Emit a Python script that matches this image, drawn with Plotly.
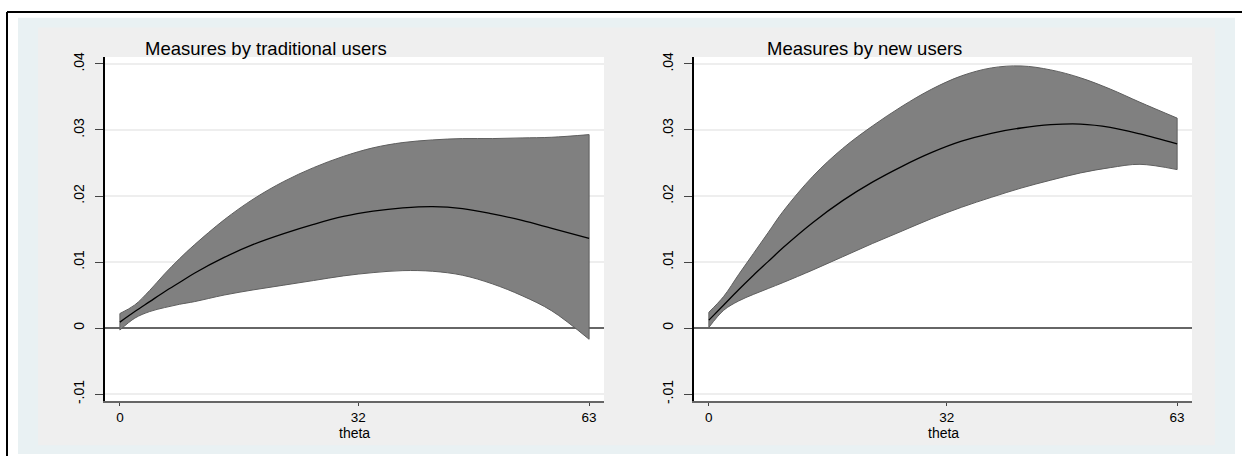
import plotly.graph_objects as go

W, H = 1242, 459

# ---------------- data ----------------
theta = [0, 2, 4, 6, 8, 10, 14, 18, 22, 26, 30, 34, 38, 42, 46, 50, 54, 58, 63]

trad_mean = [0.0009, 0.0025, 0.0040, 0.0055, 0.0069, 0.0083, 0.0107, 0.0127, 0.0143, 0.0157,
             0.0169, 0.0177, 0.0182, 0.0184, 0.0181, 0.0173, 0.0163, 0.0151, 0.0136]
trad_upper = [0.0022, 0.0035, 0.0057, 0.0082, 0.0105, 0.0126, 0.0164, 0.0196, 0.0222, 0.0243,
              0.0260, 0.0273, 0.0281, 0.0285, 0.0287, 0.0287, 0.0288, 0.0289, 0.0293]
trad_lower = [-0.0003, 0.0015, 0.0025, 0.0031, 0.0036, 0.0040, 0.0050, 0.0058, 0.0065, 0.0072,
              0.0079, 0.0084, 0.0087, 0.0086, 0.0080, 0.0067, 0.0049, 0.0026, -0.0017]

new_mean = [0.0012, 0.0035, 0.0058, 0.0080, 0.0101, 0.0122, 0.0160, 0.0193, 0.0221, 0.0245,
            0.0266, 0.0283, 0.0295, 0.0303, 0.0308, 0.0309, 0.0304, 0.0294, 0.0279]
new_upper = [0.0024, 0.0048, 0.0081, 0.0113, 0.0145, 0.0177, 0.0230, 0.0272, 0.0306, 0.0336,
             0.0362, 0.0382, 0.0394, 0.0397, 0.0391, 0.0379, 0.0362, 0.0342, 0.0318]
new_lower = [0.0001, 0.0027, 0.0041, 0.0051, 0.0060, 0.0069, 0.0088, 0.0108, 0.0128, 0.0147,
             0.0166, 0.0183, 0.0198, 0.0212, 0.0224, 0.0235, 0.0243, 0.0248, 0.0240]

titles = ["Measures by traditional users", "Measures by new users"]
x_title = "theta"
x_tickvals = [0, 32, 63]
x_ticktext = ["0", "32", "63"]
y_tickvals = [-0.01, 0, 0.01, 0.02, 0.03, 0.04]
y_ticktext = ["-.01", "0", ".01", ".02", ".03", ".04"]

# ---------------- layout helpers ----------------
def px_x(p):
    return p / W

def px_y(p):
    return 1 - p / H

FONT = "Liberation Sans, Arial, Helvetica, sans-serif"
BAND = "#808080"
EDGE = "#5e5e5e"

panels = [
    dict(mean=trad_mean, upper=trad_upper, lower=trad_lower, xd=(105, 604), title_x=266),
    dict(mean=new_mean, upper=new_upper, lower=new_lower, xd=(694, 1192), title_x=864),
]

fig = go.Figure()
layout = dict(
    width=W, height=H,
    margin=dict(l=0, r=0, t=0, b=0),
    paper_bgcolor="white",
    plot_bgcolor="rgba(0,0,0,0)",
    showlegend=False,
    font=dict(family=FONT, color="black"),
)

shapes = [
    dict(type="rect", xref="paper", yref="paper", x0=px_x(18), x1=px_x(1235), y0=px_y(457), y1=px_y(13),
         fillcolor="#e9f1f3", line=dict(width=0), layer="below"),
    dict(type="rect", xref="paper", yref="paper", x0=px_x(38), x1=px_x(1215), y0=px_y(448), y1=px_y(23),
         fillcolor="#efefef", line=dict(width=0), layer="below"),
]
annotations = []

for i, p in enumerate(panels):
    sfx = "" if i == 0 else str(i + 1)
    xa = "x" + sfx
    ya = "y" + sfx
    x0, x1 = p["xd"]
    shapes.append(dict(type="rect", xref="paper", yref="paper", x0=px_x(x0), x1=px_x(x1),
                       y0=px_y(403), y1=px_y(53), fillcolor="white", line=dict(width=0), layer="below"))
    # band
    fig.add_trace(go.Scatter(x=theta, y=p["lower"], xaxis=xa, yaxis=ya, mode="lines",
                             line=dict(color=EDGE, width=1, shape="spline", smoothing=1.0),
                             hoverinfo="skip"))
    fig.add_trace(go.Scatter(x=theta, y=p["upper"], xaxis=xa, yaxis=ya, mode="lines",
                             line=dict(color=EDGE, width=1, shape="spline", smoothing=1.0),
                             fill="tonexty", fillcolor=BAND, hoverinfo="skip"))
    # band end edges
    for k in (0, -1):
        fig.add_trace(go.Scatter(x=[theta[k], theta[k]], y=[p["lower"][k], p["upper"][k]],
                                 xaxis=xa, yaxis=ya, mode="lines",
                                 line=dict(color=EDGE, width=1), hoverinfo="skip"))
    # mean
    fig.add_trace(go.Scatter(x=theta, y=p["mean"], xaxis=xa, yaxis=ya, mode="lines",
                             line=dict(color="black", width=1.3, shape="spline", smoothing=1.0)))

    layout["xaxis" + sfx] = dict(
        domain=[px_x(x0), px_x(x1)], anchor=ya, range=[-2, 65],
        tickmode="array", tickvals=x_tickvals, ticktext=x_ticktext,
        ticks="outside", ticklen=3, tickwidth=1, tickcolor="#444",
        showline=True, linecolor="#666", linewidth=1.5,
        showgrid=False, zeroline=False,
        tickfont=dict(size=13.5, family=FONT, color="black"),
    )
    layout["yaxis" + sfx] = dict(
        domain=[px_y(403), px_y(53)], anchor=xa, range=[-0.011045, 0.041045],
        tickmode="array", tickvals=y_tickvals, ticktext=y_ticktext,
        ticks="outside", ticklen=8, tickwidth=1, tickcolor="#444",
        tickangle=-90, ticklabelstandoff=6,
        showline=True, linecolor="black", linewidth=1.5,
        showgrid=True, gridcolor="#eeeeee", gridwidth=1.5,
        zeroline=True, zerolinecolor="#666", zerolinewidth=1.5,
        tickfont=dict(size=14, family=FONT, color="black"),
    )
    annotations.append(dict(text=titles[i], xref="paper", yref="paper", x=px_x(p["title_x"]), y=px_y(44),
                            xanchor="center", yanchor="middle", showarrow=False,
                            font=dict(size=18.5, family=FONT, color="black")))
    annotations.append(dict(text=x_title, xref="paper", yref="paper", x=px_x((x0 + x1) / 2), y=px_y(436),
                            xanchor="center", yanchor="middle", showarrow=False,
                            font=dict(size=14, family=FONT, color="black")))

# outer black frame (top and left)
shapes.append(dict(type="line", xref="paper", yref="paper", x0=px_x(7), x1=1, y0=px_y(7), y1=px_y(7),
                   line=dict(color="black", width=2)))
shapes.append(dict(type="line", xref="paper", yref="paper", x0=px_x(7), x1=px_x(7), y0=0, y1=px_y(7),
                   line=dict(color="black", width=2)))

layout["shapes"] = shapes
layout["annotations"] = annotations
fig.update_layout(**layout)
fig.write_html("out.html", config={"displayModeBar": False},
               post_script="document.body.style.margin='0';document.body.style.overflow='hidden';")
